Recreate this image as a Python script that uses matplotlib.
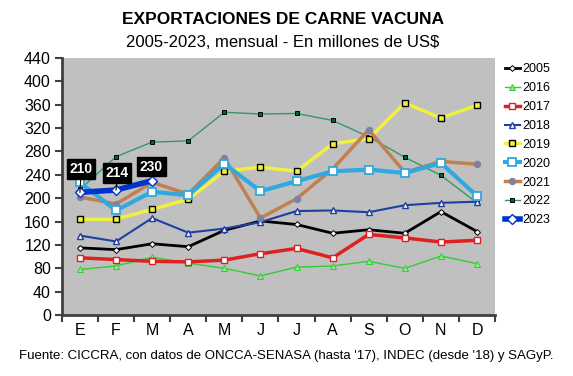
import matplotlib
matplotlib.use("Agg")
import matplotlib.pyplot as plt

plt.rcParams['font.family'] = ['Liberation Sans', 'DejaVu Sans']

months = ["E", "F", "M", "A", "M", "J", "J", "A", "S", "O", "N", "D"]
y2005 = [115, 112, 122, 117, 145, 161, 155, 140, 146, 140, 177, 143]
y2016 = [78, 84, 99, 89, 80, 67, 82, 84, 92, 80, 101, 88]
y2017 = [98, 95, 92, 91, 94, 105, 114, 98, 138, 132, 125, 128]
y2018 = [136, 126, 166, 141, 148, 159, 178, 179, 176, 188, 192, 194]
y2019 = [164, 164, 181, 198, 246, 253, 246, 293, 302, 363, 337, 359]
y2020 = [227, 179, 211, 205, 259, 212, 229, 246, 249, 243, 260, 204]
y2021 = [202, 190, 227, 207, 269, 166, 199, 250, 317, 244, 263, 258]
y2022 = [215, 271, 296, 298, 347, 344, 345, 333, 305, 270, 239, 192]
y2023 = [210, 214, 230]
yticks = list(range(0, 441, 40))

fig = plt.figure(figsize=(5.73, 3.76), dpi=100)
ax = fig.add_axes([0.108, 0.162, 0.756, 0.684])
ax.set_facecolor('#c0c0c0')

x = list(range(12))
series = [
    ("2005", y2005, dict(color='black', lw=2.0, marker='D', ms=3, mfc='white', mec='black', mew=0.7)),
    ("2016", y2016, dict(color='#33cc33', lw=1.0, marker='^', ms=4, mfc='#88ee88', mec='#33cc33', mew=0.7)),
    ("2017", y2017, dict(color='#e02020', lw=2.5, marker='s', ms=4.5, mfc='white', mec='#e02020', mew=1.0)),
    ("2018", y2018, dict(color='#2040a0', lw=1.5, marker='^', ms=5, mfc='white', mec='#2040a0', mew=1.0)),
    ("2019", y2019, dict(color='#f0f040', lw=2.5, marker='s', ms=4.5, mfc='#f0f040', mec='black', mew=1.0)),
    ("2020", y2020, dict(color='#30a8e0', lw=3.0, marker='s', ms=6, mfc='white', mec='#30a8e0', mew=1.3)),
    ("2021", y2021, dict(color='#c08050', lw=2.5, marker='o', ms=4.5, mfc='#8080a0', mec='#8080a0', mew=0.8)),
    ("2022", y2022, dict(color='#339966', lw=1.0, marker='s', ms=3.5, mfc='#006633', mec='black', mew=0.7)),
    ("2023", y2023, dict(color='#0033cc', lw=4.0, marker='D', ms=5, mfc='white', mec='#0033cc', mew=1.0)),
]
handles = []
order_z = {"2022": 2, "2005": 3, "2016": 3, "2017": 3, "2018": 3, "2019": 4, "2021": 5, "2020": 6, "2023": 8}
for name, vals, st in series:
    h, = ax.plot(range(len(vals)), vals, label=name, zorder=order_z[name], **st)
    handles.append(h)

# data labels for 2023
lab_pos = [(0.03, 250), (1.03, 243), (1.98, 254)]
for i, v in enumerate(y2023):
    lx, ly = lab_pos[i]
    if i < 2:
        ax.plot([i, lx], [v, ly - 8], color='black', lw=0.8, zorder=9)
    ax.text(lx, ly, str(v), ha='center', va='center', color='white', fontsize=10,
            fontweight='bold', zorder=10,
            bbox=dict(boxstyle='square,pad=0.2', fc='black', ec='black'))

ax.set_xlim(-0.5, 11.5)
ax.set_ylim(0, 440)
ax.set_yticks(yticks)
ax.set_yticklabels([str(t) for t in yticks], fontsize=11.5)
ax.set_xticks(x)
ax.set_xticklabels(months, fontsize=11.5)
ax.set_xticks([i - 0.5 for i in range(13)], minor=True)
ax.tick_params(axis='x', which='major', length=0, pad=6)
ax.tick_params(axis='x', which='minor', length=5, width=1.5, color='#404040', direction='out')
ax.tick_params(axis='y', length=5, width=1.5, color='#404040', direction='out', pad=3)
for s in ['top', 'right']:
    ax.spines[s].set_visible(False)
for s in ['left', 'bottom']:
    ax.spines[s].set_color('#404040')
    ax.spines[s].set_linewidth(2)

fig.legend(handles=handles, labels=[h.get_label() for h in handles], loc='upper left',
           bbox_to_anchor=(0.872, 0.845), frameon=False, fontsize=9, handlelength=1.25,
           handletextpad=0.15, labelspacing=0.55, borderaxespad=0)

fig.text(0.494, 0.948, "EXPORTACIONES DE CARNE VACUNA", ha='center', va='center',
         fontsize=12.5, fontweight='bold')
fig.text(0.494, 0.888, "2005-2023, mensual - En millones de US$", ha='center', va='center',
         fontsize=12)
fig.text(0.5, 0.053, "Fuente: CICCRA, con datos de ONCCA-SENASA (hasta '17), INDEC (desde '18) y SAGyP.",
         ha='center', va='center', fontsize=9.5)

fig.savefig("out.png", dpi=100)
